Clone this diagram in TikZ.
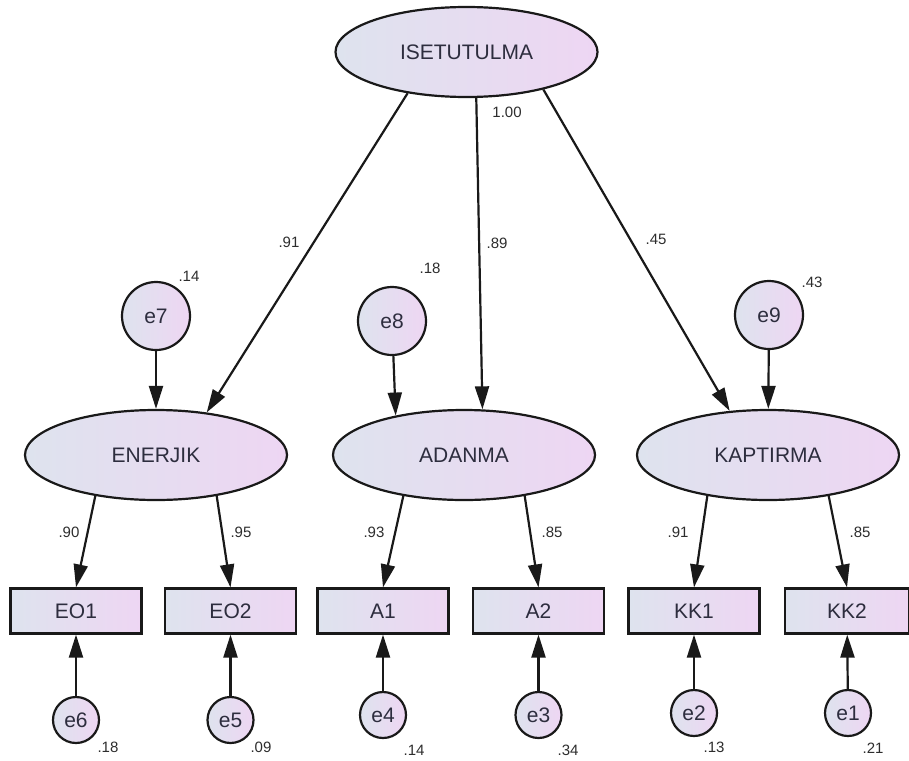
\documentclass[tikz,border=0pt]{standalone}
\usepackage{fontspec}
\setmainfont{Liberation Sans}
\usetikzlibrary{shapes.geometric,arrows.meta}

\definecolor{fillL}{RGB}{222,227,238}
\definecolor{fillR}{RGB}{238,214,243}
\definecolor{ink}{RGB}{45,45,62}
\definecolor{lbl}{RGB}{45,45,45}

\tikzset{
  sembase/.style={draw=black!90, line width=2.2pt, left color=fillL, right color=fillR,
    text=ink, font=\fontsize{21}{25}\selectfont, inner sep=0pt},
  semlatent/.style={sembase, ellipse, minimum width=262pt, minimum height=90pt},
  semobserved/.style={sembase, rectangle, minimum width=131pt, minimum height=45pt},
  semerrbig/.style={sembase, circle, minimum size=68pt},
  semerrsmall/.style={sembase, circle, minimum size=46pt},
  semreg/.style={line width=2.2pt, draw=black!90, -{Triangle[length=23pt,width=14pt]}},
  semest/.style={text=lbl, font=\fontsize{15}{18}\selectfont, inner sep=0pt},
}

\begin{document}
\begin{tikzpicture}[x=1pt,y=-1pt]
  \fill[white] (0,0) rectangle (909,760);
  \useasboundingbox (0,0) rectangle (909,760);

  % latent factors
  \node[semlatent] (ise) at (466.5,52)  {ISETUTULMA};
  \node[semlatent] (ene) at (156,455)   {ENERJIK};
  \node[semlatent] (ada) at (464,455)   {ADANMA};
  \node[semlatent] (kap) at (768,455)   {KAPTIRMA};

  % disturbances of the first-order factors
  \node[semerrbig] (e7) at (156,316) {e7};
  \node[semerrbig] (e8) at (392,321) {e8};
  \node[semerrbig] (e9) at (769,315) {e9};

  % observed indicators
  \node[semobserved] (eo1) at (76,611)    {EO1};
  \node[semobserved] (eo2) at (230.5,611) {EO2};
  \node[semobserved] (a1)  at (383,611)   {A1};
  \node[semobserved] (a2)  at (538.5,611) {A2};
  \node[semobserved] (kk1) at (694,611)   {KK1};
  \node[semobserved, minimum width=124pt] (kk2) at (847,611) {KK2};

  % measurement errors
  \node[semerrsmall] (e6) at (76,720)    {e6};
  \node[semerrsmall] (e5) at (230.5,720) {e5};
  \node[semerrsmall] (e4) at (383,715)   {e4};
  \node[semerrsmall] (e3) at (538.5,715) {e3};
  \node[semerrsmall] (e2) at (694,713)   {e2};
  \node[semerrsmall] (e1) at (848,713)   {e1};

  % second-order loadings
  \draw[semreg] (ise.215) -- (ene.40);
  \draw[semreg] (ise.282) -- (ada.68);
  \draw[semreg] (ise.334) -- (kap.131);

  % disturbances
  \draw[semreg] (e7) -- (ene);
  \draw[semreg] (e8) -- (ada.150);
  \draw[semreg] (e9) -- (kap);

  % first-order loadings
  \draw[semreg] (ene.214) -- (eo1.north);
  \draw[semreg] (ene.326) -- (eo2.north);
  \draw[semreg] (ada.214) -- (a1.north);
  \draw[semreg] (ada.326) -- (a2.north);
  \draw[semreg] (kap.214) -- (kk1.north);
  \draw[semreg] (kap.326) -- (kk2.north);

  % measurement errors
  \draw[semreg] (e6) -- (eo1);
  \draw[semreg] (e5) -- (eo2);
  \draw[semreg] (e4) -- (a1);
  \draw[semreg] (e3) -- (a2);
  \draw[semreg] (e2) -- (kk1);
  \draw[semreg] (e1) -- (kk2);

  % standardized estimates
  \node[semest] (vise) at (507,112) {1.00};
  \node[semest] (wene) at (289,242) {.91};
  \node[semest] (wada) at (497,243) {.89};
  \node[semest] (wkap) at (656,239) {.45};
  \node[semest] (vene) at (189,276) {.14};
  \node[semest] (vada) at (430,268) {.18};
  \node[semest] (vkap) at (812,282) {.43};
  \node[semest] (weo1) at (69,532)  {.90};
  \node[semest] (weo2) at (241,532) {.95};
  \node[semest] (wa1)  at (374,532) {.93};
  \node[semest] (wa2)  at (552,532) {.85};
  \node[semest] (wkk1) at (678,532) {.91};
  \node[semest] (wkk2) at (860,532) {.85};
  \node[semest] (veo1) at (108,747) {.18};
  \node[semest] (veo2) at (261,747) {.09};
  \node[semest] (va1)  at (414,750) {.14};
  \node[semest] (va2)  at (568,750) {.34};
  \node[semest] (vkk1) at (714,747) {.13};
  \node[semest] (vkk2) at (873,748) {.21};
\end{tikzpicture}
\end{document}
